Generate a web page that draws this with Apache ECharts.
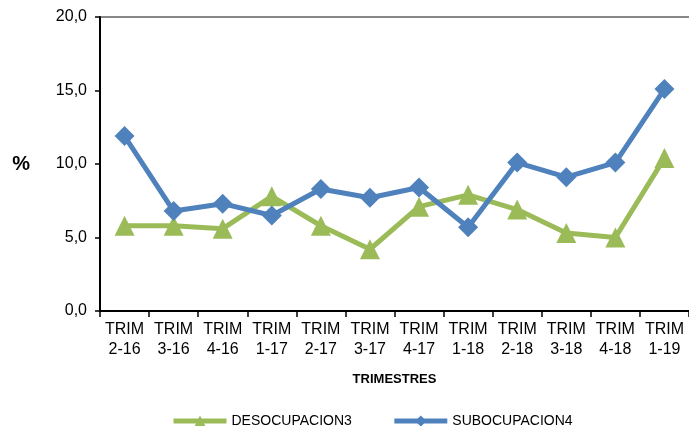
<!DOCTYPE html>
<html><head><meta charset="utf-8">
<script src="https://cdn.jsdelivr.net/npm/echarts@6/dist/echarts.min.js"></script>
<style>html,body{margin:0;padding:0;background:#fff}#c{width:689px;height:426px}</style>
</head><body><div id="c"></div>
<script>
const categories = ['TRIM\n2-16','TRIM\n3-16','TRIM\n4-16','TRIM\n1-17','TRIM\n2-17','TRIM\n3-17','TRIM\n4-17','TRIM\n1-18','TRIM\n2-18','TRIM\n3-18','TRIM\n4-18','TRIM\n1-19'];
const desocupacion = [5.8,5.8,5.6,7.8,5.8,4.2,7.1,7.9,6.9,5.3,5.0,10.4];
const subocupacion = [11.9,6.8,7.3,6.5,8.3,7.7,8.4,5.7,10.1,9.1,10.1,15.1];
const chart = echarts.init(document.getElementById('c'));
const font = 'Liberation Sans, Arial, sans-serif';
chart.setOption({
  animation:false,
  textStyle:{fontFamily:font},
  grid:{left:100,right:0,top:17,bottom:115},
  legend:{top:409,left:166,itemWidth:53,itemHeight:14,itemGap:40,
    lineStyle:{width:5},
    textStyle:{fontFamily:font,fontSize:14,color:'#000'},
    data:['DESOCUPACION3','SUBOCUPACION4']},
  xAxis:{type:'category',data:categories,boundaryGap:true,
    name:'TRIMESTRES',nameLocation:'middle',nameGap:62,
    nameTextStyle:{fontFamily:font,fontSize:13,fontWeight:'bold',color:'#000'},
    axisLine:{lineStyle:{color:'#000',width:2}},
    axisTick:{show:true,alignWithLabel:false,length:6,lineStyle:{color:'#000',width:1.5}},
    axisLabel:{color:'#000',fontSize:16,lineHeight:20,margin:9,interval:0,fontFamily:font}},
  yAxis:{type:'value',min:0,max:20,interval:5,
    name:'%',nameLocation:'middle',nameRotate:0,nameGap:70,
    nameTextStyle:{fontFamily:font,fontSize:20,fontWeight:'bold',color:'#000'},
    axisLine:{show:true,lineStyle:{color:'#000',width:2}},
    axisTick:{show:true,length:5,lineStyle:{color:'#000',width:1.5}},
    axisLabel:{color:'#000',fontSize:16,margin:13,fontFamily:font,formatter:v=>v.toFixed(1).replace('.',',')},
    splitLine:{show:true,lineStyle:{color:['transparent','transparent','transparent','transparent','#888'],width:2}}},
  series:[
    {name:'DESOCUPACION3',type:'line',data:desocupacion,symbol:'triangle',symbolSize:20,
     lineStyle:{color:'#9bbb59',width:5},itemStyle:{color:'#9bbb59'},z:2},
    {name:'SUBOCUPACION4',type:'line',data:subocupacion,symbol:'diamond',symbolSize:20,
     lineStyle:{color:'#4f81bd',width:5},itemStyle:{color:'#4f81bd'},z:3}
  ]
});
</script></body></html>
